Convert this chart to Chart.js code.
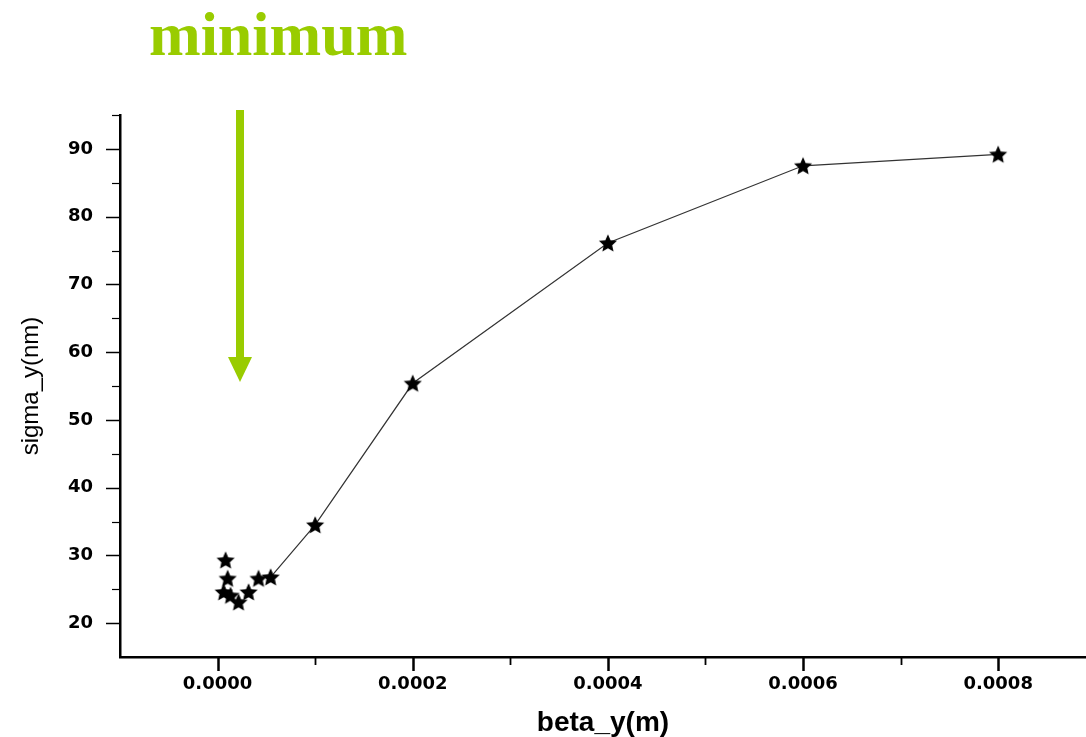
<!DOCTYPE html>
<html>
<head>
<meta charset="utf-8">
<script src="https://cdn.jsdelivr.net/npm/chart.js@4/dist/chart.umd.min.js"></script>
<style>
  html, body { margin: 0; padding: 0; background: #ffffff; overflow: hidden; }
  #wrap { width: 1086px; height: 737px; }
</style>
</head>
<body>
<div id="wrap"><canvas id="c" width="1086" height="737"></canvas></div>
<script>
// ---- data ----
const betaY  = [0.0000062, 0.0000082, 0.0000103, 0.0000133, 0.0000215, 0.0000318, 0.0000420, 0.0000544, 0.0001, 0.0002, 0.0004, 0.0006, 0.0008];
const sigmaY = [24.6, 29.3, 26.6, 24.1, 23.1, 24.6, 26.6, 26.8, 34.5, 55.4, 76.1, 87.5, 89.2];
const firstConnected = 7; // line drawn from this point onward
const xTickValues = [0, 0.0002, 0.0004, 0.0006, 0.0008];
const xMinorTicks = [0.0001, 0.0003, 0.0005, 0.0007];
const yTickValues = [20, 30, 40, 50, 60, 70, 80, 90];
const yMinorTicks = [25, 35, 45, 55, 65, 75, 85, 95];
const titleText = 'minimum';
const xTitle = 'beta_y(m)';
const yTitle = 'sigma_y(nm)';

// filled five-pointed star marker
function makeStar(size) {
  const cv = document.createElement('canvas');
  cv.width = size; cv.height = size;
  const g = cv.getContext('2d');
  const cx = size / 2, cy = size / 2 + 0.8, R = size / 2 - 0.5, r = R * 0.47;
  g.beginPath();
  for (let i = 0; i < 10; i++) {
    const ang = -Math.PI / 2 + i * Math.PI / 5;
    const rad = i % 2 === 0 ? R : r;
    const px = cx + rad * Math.cos(ang), py = cy + rad * Math.sin(ang);
    i === 0 ? g.moveTo(px, py) : g.lineTo(px, py);
  }
  g.closePath();
  g.fillStyle = '#000';
  g.fill();
  return cv;
}
const star = makeStar(20);

const decorPlugin = {
  id: 'decor',
  afterDraw(chart) {
    const ctx = chart.ctx;
    const xs = chart.scales.x, ys = chart.scales.y;
    const ca = chart.chartArea;
    ctx.save();
    // tick marks
    ctx.strokeStyle = '#000';
    const tickX = (vals, len, w) => {
      ctx.lineWidth = w;
      vals.forEach(v => {
        const p = Math.round(xs.getPixelForValue(v)) + 0.5;
        ctx.beginPath(); ctx.moveTo(p, ca.bottom); ctx.lineTo(p, ca.bottom + len); ctx.stroke();
      });
    };
    const tickY = (vals, len, w) => {
      ctx.lineWidth = w;
      vals.forEach(v => {
        const p = Math.round(ys.getPixelForValue(v)) + 0.5;
        ctx.beginPath(); ctx.moveTo(ca.left, p); ctx.lineTo(ca.left - len, p); ctx.stroke();
      });
    };
    tickX(xTickValues, 14, 2.5);
    tickX(xMinorTicks, 8, 1.8);
    tickY(yTickValues, 14, 1.5);
    tickY(yMinorTicks, 8, 1.2);

    // title
    ctx.fillStyle = '#99CC00';
    ctx.font = 'bold 62px "Liberation Serif", "DejaVu Serif", serif';
    ctx.textAlign = 'left';
    ctx.textBaseline = 'alphabetic';
    ctx.fillText(titleText, 149, 55);

    // arrow
    const ax = 240;
    ctx.fillRect(ax - 4, 110, 8, 248);
    ctx.beginPath();
    ctx.moveTo(ax - 12, 357);
    ctx.lineTo(ax + 12, 357);
    ctx.lineTo(ax, 382);
    ctx.closePath();
    ctx.fill();
    ctx.restore();
  }
};

const tickFont = { family: '"DejaVu Sans", sans-serif', size: 18, weight: 'bold' };

new Chart(document.getElementById('c'), {
  type: 'scatter',
  data: {
    datasets: [{
      data: betaY.map((b, i) => ({ x: b, y: sigmaY[i] })),
      showLine: true,
      borderColor: '#333',
      borderWidth: 1.2,
      pointStyle: star,
      pointRadius: 10,
      pointHoverRadius: 10,
      clip: false,
      segment: {
        borderColor: c => (c.p0DataIndex < firstConnected ? 'rgba(0,0,0,0)' : '#333')
      }
    }]
  },
  options: {
    responsive: false,
    animation: false,
    devicePixelRatio: 1,
    layout: { autoPadding: false, padding: { top: 115, left: 0, right: 0, bottom: 0 } },
    plugins: { legend: { display: false }, tooltip: { enabled: false } },
    scales: {
      x: {
        type: 'linear',
        min: -0.0001,
        max: 0.00089,
        afterBuildTicks: s => { s.ticks = xTickValues.map(v => ({ value: v })); },
        afterFit: s => { s.height = 80; s.paddingLeft = 0; s.paddingRight = 0; },
        ticks: {
          callback: v => Number(v).toFixed(4),
          font: tickFont, color: '#000', padding: 17, maxRotation: 0, autoSkip: false
        },
        grid: { display: true, drawOnChartArea: false, drawTicks: false },
        border: { display: true, color: '#000', width: 2.5 },
        title: {
          display: true, text: xTitle, color: '#000',
          font: { family: '"Liberation Sans", Arial, sans-serif', size: 28, weight: 'bold' },
          padding: { top: 0, bottom: -3 }
        }
      },
      y: {
        type: 'linear',
        min: 15,
        max: 95,
        afterBuildTicks: s => { s.ticks = yTickValues.map(v => ({ value: v })); },
        afterFit: s => { s.width = 120; s.paddingTop = 0; s.paddingBottom = 0; },
        ticks: { font: tickFont, color: '#000', padding: 27, autoSkip: false },
        grid: { display: true, drawOnChartArea: false, drawTicks: false },
        border: { display: true, color: '#000', width: 2.5 },
        title: {
          display: true, text: yTitle, color: '#000',
          font: { family: '"Liberation Sans", Arial, sans-serif', size: 24 },
          padding: { top: 17, bottom: 0 }
        }
      }
    }
  },
  plugins: [decorPlugin]
});
</script>
</body>
</html>
